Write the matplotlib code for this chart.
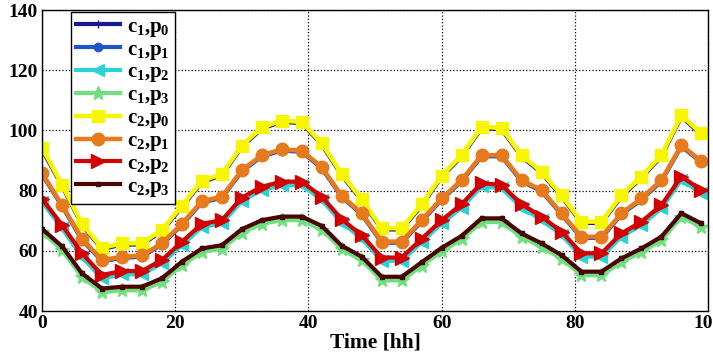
import matplotlib
matplotlib.use('Agg')
import matplotlib.pyplot as plt
import numpy as np

plt.rcParams['font.family'] = ['Liberation Serif', 'DejaVu Serif']
plt.rcParams['font.weight'] = 'bold'
plt.rcParams['mathtext.fontset'] = 'custom'
plt.rcParams['mathtext.rm'] = 'Liberation Serif:bold'
plt.rcParams['mathtext.it'] = 'Liberation Serif:bold'
plt.rcParams['mathtext.bf'] = 'Liberation Serif:bold'

# time axis, one point every 3 h
hours = list(range(0, 100, 3))

c1p0 = [93.6, 81.6, 68.6, 60.6, 62.1, 62.1, 66.6, 74.6, 82.9, 85.1, 94.6, 100.6, 102.9, 102.4, 95.3, 85.1, 76.8,
        67.1, 67.1, 75.1, 84.6, 91.4, 100.8, 100.4, 91.4, 85.9, 78.1, 69.3, 69.3, 78.1, 84.3, 91.4, 104.6, 98.6]
c1p1 = [85.4, 74.8, 63.6, 56.6, 57.6, 58.1, 62.1, 68.6, 76.1, 77.6, 86.4, 91.4, 93.3, 92.9, 87.4, 77.9, 72.1,
        62.7, 62.7, 69.8, 77.0, 83.1, 91.4, 91.4, 83.1, 79.8, 72.1, 64.3, 64.3, 72.1, 77.0, 83.1, 94.7, 89.4]
c1p2 = [76.3, 67.5, 57.9, 50.9, 52.2, 52.2, 55.9, 61.9, 67.9, 69.1, 76.6, 80.2, 81.9, 81.9, 76.9, 69.4, 64.1,
        56.7, 56.7, 62.9, 69.1, 74.4, 81.4, 80.8, 74.4, 70.3, 65.3, 58.1, 58.1, 64.7, 68.6, 74.1, 83.6, 79.1]
c1p3 = [66.3, 60.3, 51.3, 46.3, 46.9, 46.9, 49.7, 55.2, 59.6, 60.7, 66.0, 69.0, 70.2, 70.2, 67.1, 60.5, 56.9,
        50.2, 50.2, 55.0, 59.8, 63.8, 69.6, 69.6, 64.6, 61.3, 57.4, 51.9, 51.9, 56.3, 59.6, 63.5, 71.3, 67.9]
c2p0 = [94.3, 82.0, 69.0, 61.0, 62.5, 62.5, 67.0, 75.0, 83.3, 85.5, 95.0, 101.0, 103.3, 102.8, 95.7, 85.5, 77.2,
        67.5, 67.5, 75.5, 85.0, 91.8, 101.2, 100.8, 91.8, 86.3, 78.5, 69.7, 69.7, 78.5, 84.7, 91.8, 105.0, 99.0]
c2p1 = [85.8, 75.2, 64.0, 57.0, 58.0, 58.5, 62.5, 69.0, 76.5, 78.0, 86.8, 91.8, 93.7, 93.3, 87.8, 78.3, 72.5,
        63.1, 63.1, 70.2, 77.4, 83.5, 91.8, 91.8, 83.5, 80.2, 72.5, 64.7, 64.7, 72.5, 77.4, 83.5, 95.1, 89.8]
c2p2 = [77.3, 68.6, 59.2, 52.0, 53.3, 53.3, 57.0, 63.0, 69.0, 70.2, 77.7, 81.3, 83.0, 83.0, 78.0, 70.5, 65.2,
        57.8, 57.8, 64.0, 70.2, 75.5, 82.5, 81.9, 75.5, 71.4, 66.4, 59.2, 59.2, 65.8, 69.7, 75.2, 84.7, 80.2]
c2p3 = [67.3, 61.5, 52.5, 47.5, 48.1, 48.1, 50.9, 56.4, 60.8, 61.9, 67.2, 70.2, 71.4, 71.4, 68.3, 61.7, 58.1,
        51.4, 51.4, 56.2, 61.0, 65.0, 70.8, 70.8, 65.8, 62.5, 58.6, 53.1, 53.1, 57.5, 60.8, 64.7, 72.5, 69.1]

series = [
    (c1p0, r'$c_1$,$p_0$', '#17178f', '+', 6, 3.0),
    (c1p1, r'$c_1$,$p_1$', '#1f55c8', 'o', 6, 3.0),
    (c1p2, r'$c_1$,$p_2$', '#2ad2d6', '<', 8, 3.0),
    (c1p3, r'$c_1$,$p_3$', '#70e07e', '*', 10, 3.0),
    (c2p0, r'$c_2$,$p_0$', '#f6f600', 's', 9, 3.2),
    (c2p1, r'$c_2$,$p_1$', '#e67a1c', 'o', 9, 3.2),
    (c2p2, r'$c_2$,$p_2$', '#d20000', '>', 10, 3.0),
    (c2p3, r'$c_2$,$p_3$', '#4a0404', 's', 3.5, 3.0),
]

fig = plt.figure(figsize=(7.13, 3.58), dpi=100)
ax = fig.add_axes([0.059, 0.131, 0.934, 0.841])

for vals, lab, col, mk, ms, lw in series:
    ax.plot(hours, vals, color=col, marker=mk, markersize=ms, linewidth=lw,
            markerfacecolor=col, markeredgecolor=col, label=lab)

ax.set_xlim(0, 100)
ax.set_ylim(40, 140)
ax.set_xticks([0, 20, 40, 60, 80, 100])
ax.set_yticks([40, 60, 80, 100, 120, 140])
ax.grid(True, linestyle=':', color='black', linewidth=0.9)
ax.tick_params(labelsize=14, direction='in', length=0, pad=3)
for sp in ax.spines.values():
    sp.set_linewidth(1.0)
ax.set_xlabel('Time [hh]', fontsize=15.5, fontweight='bold', labelpad=0)

leg = ax.legend(loc='upper left', bbox_to_anchor=(0.043, 0.995), fontsize=15,
                frameon=True, fancybox=False, framealpha=1, edgecolor='black',
                handlelength=2.1, labelspacing=0.04, borderpad=0.25, handletextpad=0.35,
                borderaxespad=0.0)
leg.get_frame().set_linewidth(1.0)

fig.savefig('out.png', dpi=100)
